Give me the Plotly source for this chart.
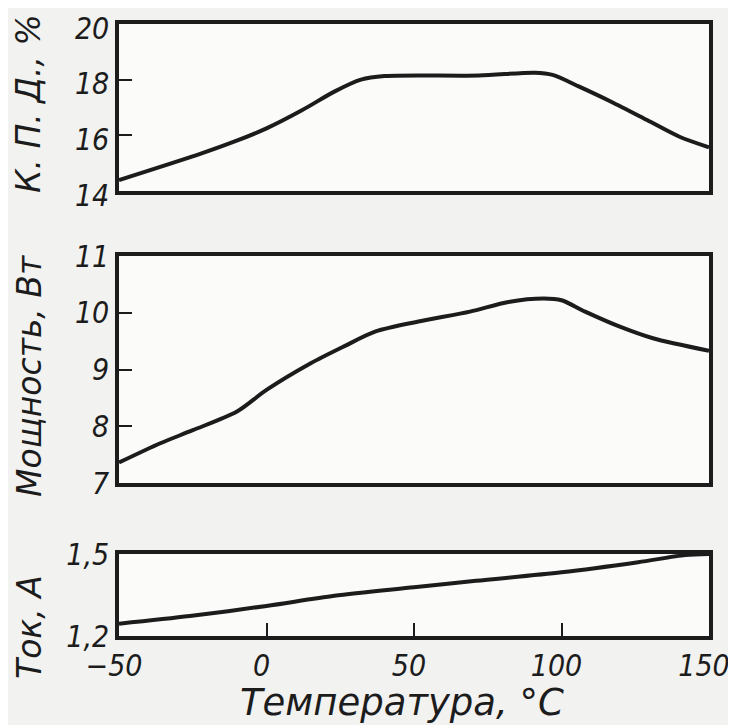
import plotly.graph_objects as go
from plotly.subplots import make_subplots

# Data
temp_eff = [-50, -22, -11, 0, 12, 23, 32, 40, 72, 91, 97, 106, 117, 129, 140, 150]
eff = [14.39, 15.35, 15.77, 16.25, 16.9, 17.57, 18.0, 18.13, 18.15, 18.25, 18.17, 17.75, 17.2, 16.55, 15.95, 15.57]

temp_pow = [-50, -36, -25, -10, 0, 15, 26, 37, 52, 69, 82, 94, 100, 108, 120, 131, 150]
power = [7.36, 7.7, 7.93, 8.26, 8.64, 9.11, 9.4, 9.67, 9.85, 10.02, 10.19, 10.25, 10.22, 10.02, 9.75, 9.55, 9.33]

temp_cur = [-50, -26, 0, 23, 50, 71, 100, 126, 142, 150]
current = [1.245, 1.273, 1.31, 1.347, 1.378, 1.402, 1.433, 1.47, 1.496, 1.5]

x_ticks = [-50, 0, 50, 100, 150]
x_ticktext = ["\u221250", "0", "50", "100", "150"]
eff_ticks = [14, 16, 18, 20]
pow_ticks = [7, 8, 9, 10, 11]
cur_ticks = [1.2, 1.5]
cur_ticktext = ["1,2", "1,5"]

NUM_FONT = "DejaVu Sans Condensed, DejaVu Sans, sans-serif"
TXT_FONT = "DejaVu Sans, sans-serif"
INK = "#1c1c1c"

fig = make_subplots(rows=3, cols=1, shared_xaxes=False)

line = dict(color=INK, width=4, shape="spline", smoothing=0.8)
fig.add_trace(go.Scatter(x=temp_eff, y=eff, mode="lines", line=line, showlegend=False), row=1, col=1)
fig.add_trace(go.Scatter(x=temp_pow, y=power, mode="lines", line=line, showlegend=False), row=2, col=1)
fig.add_trace(go.Scatter(x=temp_cur, y=current, mode="lines", line=line, showlegend=False), row=3, col=1)

OFF = 8  # page body margin
W, H = 736 - OFF, 725 - OFF
PX_L, PX_R, PX_T, PX_B = 119, 709, 24, 636  # plot area in window pixels
L = PX_L - OFF
R = (OFF + W) - PX_R
T = PX_T - OFF
B = (OFF + H) - PX_B
ph = PX_B - PX_T
pw = PX_R - PX_L

def frac(ytop, ybot):
    return [(PX_B - ybot) / ph, (PX_B - ytop) / ph]

box = dict(showline=True, linewidth=3.5, linecolor=INK, mirror=True, showgrid=False,
           zeroline=False, automargin=False, ticklabeloverflow="allow")
tk = dict(ticks="inside", ticklen=13, tickwidth=2, tickcolor=INK)

fig.update_layout(
    width=W, height=H,
    margin=dict(l=L, r=R, t=T, b=B, autoexpand=False),
    paper_bgcolor="#f2f2f0",
    plot_bgcolor="#fbfbfa",
    font=dict(family=NUM_FONT, size=30, color=INK, style="italic"),
    showlegend=False,
    xaxis=dict(domain=[0, 1], range=[-50, 150], showticklabels=False, ticks="", **box),
    xaxis2=dict(domain=[0, 1], range=[-50, 150], showticklabels=False, ticks="", **box),
    xaxis3=dict(domain=[0, 1], range=[-50, 150], tickvals=x_ticks, ticktext=x_ticktext,
                ticklabelshift=-5, **tk, **box),
    yaxis=dict(domain=frac(24, 191), range=[14, 20], tickvals=eff_ticks,
               ticklabelshift=4, **tk, **box),
    yaxis2=dict(domain=frac(256, 483), range=[7, 11], tickvals=pow_ticks, **tk, **box),
    yaxis3=dict(domain=frac(554, 636), range=[1.2, 1.5], tickvals=cur_ticks, ticktext=cur_ticktext,
                ticks="", **box),
)

def ytitle(text, ycenter_px):
    fig.add_annotation(
        text=text, xref="paper", yref="paper",
        x=(29 - PX_L) / pw, y=(PX_B - ycenter_px) / ph,
        xanchor="center", yanchor="middle", textangle=-90, showarrow=False,
        font=dict(family=TXT_FONT, size=33, color=INK, style="italic"),
    )

ytitle("К. П. Д., %", 104)
ytitle("Мощность, Вт", 376)
ytitle("Ток, А", 627)

fig.add_annotation(
    text="Температура, °С", xref="paper", yref="paper",
    x=(402 - PX_L) / pw, y=(PX_B - 702) / ph,
    xanchor="center", yanchor="middle", showarrow=False,
    font=dict(family=TXT_FONT, size=37, color=INK, style="italic"),
)

fig.write_html("out.html")
